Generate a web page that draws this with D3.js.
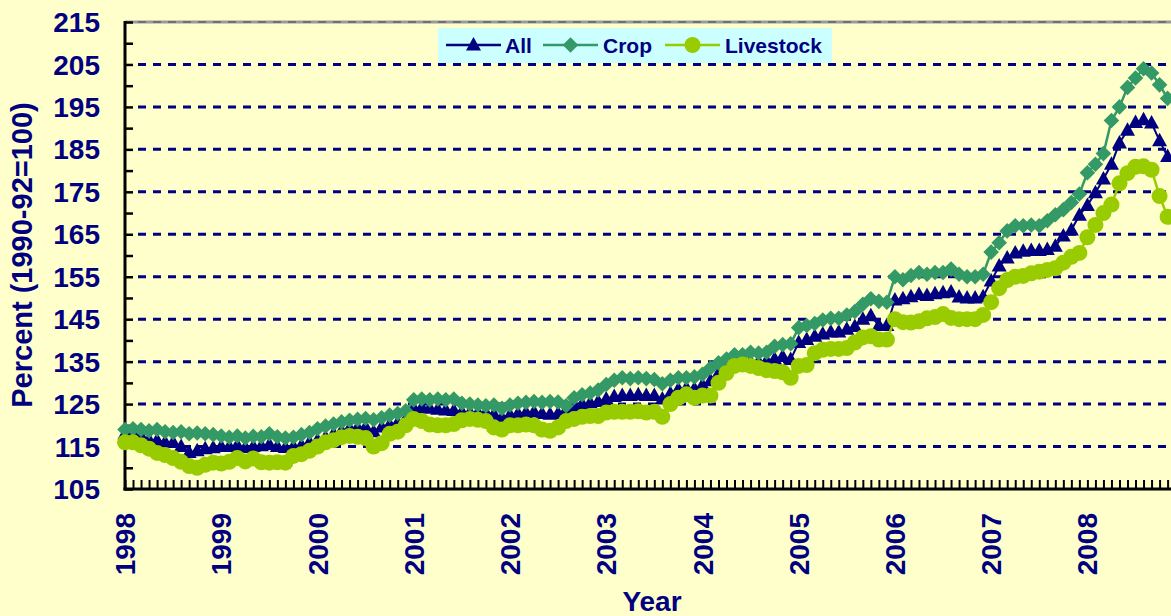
<!DOCTYPE html>
<html><head><meta charset="utf-8">
<script src="https://cdn.jsdelivr.net/npm/d3@7"></script>
<style>
html,body{margin:0;padding:0;background:#FFFFCC;}
svg{display:block;}
text{font-family:"Liberation Sans",Arial,sans-serif;font-weight:bold;fill:#000080;}
</style></head>
<body>
<svg id="c" width="1171" height="616"></svg>
<script>
// ---- data (monthly, Jan 1998 = index 0) ----
const yearLabels = ["1998","1999","2000","2001","2002","2003","2004","2005","2006","2007","2008"];
const yTicks = [105,115,125,135,145,155,165,175,185,195,205,215];
const seriesNames = ["All","Crop","Livestock"];

const allValues = [
118,118,117.5,116.6,116.5,116,116,115,113.6,114,114.5,114.7,
115,115,115.3,114.8,115,115.2,115.5,115,114.8,115,115.3,116,
116.5,117.2,118,118.7,119.3,119.5,119.6,118.5,119.6,120.2,120.6,121.5,
124,124.2,124,123.8,123.6,123.5,123.2,123,123,123,122.6,121.8,
122.5,122.8,123,123.2,122.8,122.6,122.8,123.6,124.5,125,125.3,125.6,
126.2,126.8,127,127,127.2,127,127,126.2,127.5,128.5,128.8,128.6,
129.5,130.5,132.2,133.5,134.5,134.8,135,135,135.2,135.6,136.2,135.5,
139.5,140.2,141,141.5,142,142,142.6,143.3,145,145.8,143.5,143.5,
149.5,149.8,150.3,150.8,150.6,151,151.2,151.4,150.2,150,150,150.3,
154,157.5,159.4,160.6,161,161.2,161.2,161.4,162.2,164.6,166,169.5,
171.8,174.8,178,181.5,186.5,189.5,191.3,192,191.2,187,183.3];

const cropValues = [
119,119.2,119,118.7,119,118.5,118.3,118.5,118,118.2,118,117.8,
117.5,117.2,117.5,117,117.4,117.3,118,117.3,117,117.2,117.8,118.3,
119.2,119.8,120.3,120.8,121.2,121.4,121.6,121.3,121.8,122.4,122.8,123.4,
126,126.2,126,126.2,126,126.2,125.2,125,124.8,124.6,124.8,124,
124.8,125.2,125.4,125.6,125.4,125.6,125.5,124.6,126.5,127.2,127.6,128.3,
129.6,130.6,131.2,131,131.2,131,130.8,129.8,130.6,131.2,131.2,131.4,
132,133.5,134.7,135.6,136.6,136.6,137.2,137,137.2,138.6,139,139.2,
143,143.5,144,144.8,145.2,145.2,146,146.8,148.5,149.8,149.2,149,
155,154.3,155.3,156,155.6,156,156,156.8,155.6,155,155,155.6,
160.8,163,165.8,167,167,167.2,167,168.2,169.6,170.8,172.5,174.5,
179.5,181.5,184,191.8,195,199.6,201.8,204,203,200.2,197];

const livestockValues = [
116,116,115.3,114.5,113.5,113,112.3,111.4,110.4,110,110.7,111.2,
111,111.4,112.3,111.5,112.2,111.3,111.2,111.3,111.2,112.8,113.2,114,
115,116,116.5,117.2,117.5,117.3,117,115,115.8,118,118.5,120,
121.5,121,120.2,120,120,120.3,121.2,121.5,121.3,121,119.5,119,
120,120,120.2,120,119,118.7,119.5,121,121.5,122,122.2,122.2,
123,123.2,123.2,123.2,123.3,123,123.2,122,125,126.5,127.3,126.5,
127,127,130,132.3,134,134.3,134,133.5,133,132.8,132.5,131.2,
134,134.2,137,137.8,138,138,138.2,139.5,140.7,141,140.2,140.2,
145,144.3,144.2,144.5,145.2,145.5,146.2,145.3,145,145,145,146,
149,152.3,154.2,155,155.2,155.8,156.2,156.6,157,158.3,159.7,160.6,
164.3,167.2,170,172,177,179.4,180.9,181,180.2,174,169.1];

// ---- layout ----
const W = 1171, H = 616;
const L = 125, T = 22, B = 489;
const navy = "#000080";
const colors = {All:"#000080", Crop:"#339966", Livestock:"#99CC00"};

const svg = d3.select("#c");
svg.append("rect").attr("width",W).attr("height",H).attr("fill","#FFFFCC");

const x = d3.scaleLinear().domain([0,132]).range([L, L+132*8.02]);
const y = d3.scaleLinear().domain([105,215]).range([B,T]);

// gridlines
const grid = svg.append("g");
grid.selectAll("line").data(yTicks.filter(v=>v>105 && v<215)).join("line")
  .attr("x1",138).attr("x2",W).attr("y1",d=>y(d)).attr("y2",d=>y(d))
  .attr("stroke",navy).attr("stroke-width",3).attr("stroke-dasharray","8,7");
// top border
svg.append("line").attr("x1",L).attr("x2",W).attr("y1",y(215)).attr("y2",y(215))
  .attr("stroke","#9a9a9a").attr("stroke-width",3);
svg.append("line").attr("x1",138).attr("x2",W).attr("y1",y(215)).attr("y2",y(215))
  .attr("stroke","#6e6e7e").attr("stroke-width",2).attr("stroke-dasharray","8,7");

// y axis (ticks inward)
const yAxis = d3.axisRight(y).tickValues(d3.range(105,216,5)).tickSize(8).tickFormat("");
const ga = svg.append("g").attr("transform",`translate(${L},0)`).call(yAxis);
ga.select(".domain").remove();
ga.selectAll(".tick line").attr("stroke","#000").attr("stroke-width",2.5);
svg.append("line").attr("x1",L).attr("x2",L).attr("y1",T-1).attr("y2",B+1.5)
  .attr("stroke","#000").attr("stroke-width",3);

// y tick labels
svg.append("g").selectAll("text").data(yTicks).join("text")
  .attr("x",100).attr("y",d=>y(d)).attr("dy","0.36em")
  .attr("text-anchor","end").attr("font-size",28).text(d=>d);

// x axis (monthly ticks inward)
const xAxis = d3.axisTop(x).tickValues(d3.range(0,133,1)).tickSize(9).tickFormat("");
const gx = svg.append("g").attr("transform",`translate(0,${B})`).call(xAxis);
gx.select(".domain").remove();
gx.selectAll(".tick line").attr("stroke","#000").attr("stroke-width",2);
svg.append("line").attr("x1",L-1.5).attr("x2",W).attr("y1",B).attr("y2",B)
  .attr("stroke","#000").attr("stroke-width",3);

// year labels
svg.append("g").selectAll("text").data(yearLabels).join("text")
  .attr("transform",(d,i)=>`translate(${x(i*12)},513) rotate(-90)`)
  .attr("text-anchor","end").attr("dy","0.36em").attr("font-size",28).text(d=>d);

// axis titles
svg.append("text").attr("transform",`translate(22,255) rotate(-90)`)
  .attr("text-anchor","middle").attr("dy","0.36em").attr("font-size",29)
  .text("Percent (1990-92=100)");
svg.append("text").attr("x",652).attr("y",611).attr("text-anchor","middle")
  .attr("font-size",28).text("Year");

// series
const seriesData = {All:allValues, Crop:cropValues, Livestock:livestockValues};
const line = d3.line().x((d,i)=>x(i)).y(d=>y(d));
const triPath = "M0,-8L7.5,5.5L-7.5,5.5Z";
const diaPath = "M0,-7.8L7.8,0L0,7.8L-7.8,0Z";

function marker(g, name, cx, cy){
  if(name==="All"){
    g.append("path").attr("d",triPath).attr("transform",`translate(${cx},${cy})`).attr("fill",colors.All);
  } else if(name==="Crop"){
    g.append("path").attr("d",diaPath).attr("transform",`translate(${cx},${cy})`).attr("fill",colors.Crop);
  } else {
    g.append("circle").attr("cx",cx).attr("cy",cy).attr("r",8).attr("fill",colors.Livestock);
  }
}

seriesNames.forEach(name=>{
  const vals = seriesData[name];
  const g = svg.append("g");
  g.append("path").datum(vals).attr("d",line).attr("fill","none")
    .attr("stroke",colors[name]).attr("stroke-width",name==="All"?2:2.5);
  vals.forEach((v,i)=>marker(g,name,x(i),y(v)));
});

// legend
const lg = svg.append("g");
lg.append("rect").attr("x",438).attr("y",28).attr("width",394).attr("height",35).attr("fill","#CCFFFF");
const legendItems = [
  {name:"All", x0:446, tx:505},
  {name:"Crop", x0:543, tx:603},
  {name:"Livestock", x0:665, tx:725}
];
legendItems.forEach(it=>{
  lg.append("line").attr("x1",it.x0).attr("x2",it.x0+55).attr("y1",45).attr("y2",45)
    .attr("stroke",colors[it.name]).attr("stroke-width",2.5);
  marker(lg,it.name,it.x0+27.5,45);
  lg.append("text").attr("x",it.tx).attr("y",45).attr("dy","0.36em")
    .attr("font-size",21).text(it.name);
});
</script>
</body></html>
